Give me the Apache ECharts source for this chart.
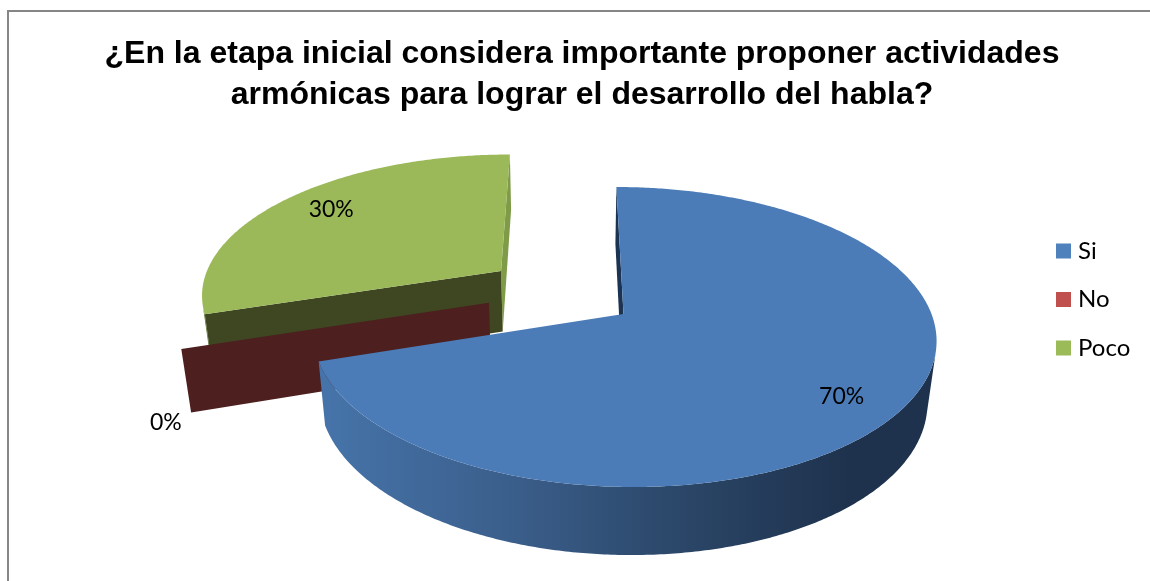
<!DOCTYPE html>
<html><head><meta charset="utf-8">
<style>html,body{margin:0;padding:0;background:#fff}#c{width:1150px;height:581px}</style>
<script src="https://cdn.jsdelivr.net/npm/echarts@6/dist/echarts.min.js"></script>
</head><body><div id="c"></div>
<script>
var titleLines = ['¿En la etapa inicial considera importante proponer actividades','armónicas para lograr el desarrollo del habla?'];
var categories = ['Si','No','Poco'];
var values = [70,0,30];
var colors = ['#4f81bd','#c0504d','#9bbb59'];
// view and layout constants of the tilted pie
var explodeUV = [[0,0],[-0.44,-0.078],[-0.408,-0.307]];
var labelUV = [[0.638,0.52],[-1.352,0.665],[-1.044,-0.80]];
var topColors = ['#4c7cb8','#4d1f1f','#9bb958'];
var cam = {vx:570, vy:-620, h:934, tiltB:3.3, k:0.1533, m:0.025, D:87, a:308, ox:53.5};

var total = values.reduce(function(a,b){return a+b;},0);
function startAngle(i){var s=0;for(var j=0;j<i;j++)s+=values[j];return s/total*2*Math.PI;}
function project(u,v,z){
  var s=1/(1-cam.k*v+cam.m*z);
  return [cam.vx+(cam.a*u+cam.ox)*s, cam.vy+(cam.h+cam.tiltB*v+cam.D*z)*s];
}
function rimPoint(i,ang,z){
  var e=explodeUV[i];
  return project(e[0]+Math.sin(ang),e[1]-Math.cos(ang),z);
}
function apex(i,z){return project(explodeUV[i][0],explodeUV[i][1],z);}
function poly(points,fill){return {type:'polygon',shape:{points:points},style:{fill:fill}};}
function signedArea(p){
  var s=0;
  for(var j=0;j<p.length;j++){var q=p[(j+1)%p.length];s+=p[j][0]*q[1]-q[0]*p[j][1];}
  return s/2;
}
// outer wall: only the stretch of rim that faces the viewer, as one outline
function outerWall(kids,topRim,botRim,fill){
  var first=-1,last=-1;
  for(var w=0;w<topRim.length-1;w++){
    if(signedArea([topRim[w],topRim[w+1],botRim[w+1],botRim[w]])<0){
      if(first<0)first=w;
      last=w+1;
    }
  }
  if(first<0)return;
  kids.push(poly(topRim.slice(first,last+1).concat(botRim.slice(first,last+1).reverse()),fill));
}

function render(i){
  return function(params,api){
    var a0=startAngle(i), a1=a0+api.value(0)/total*2*Math.PI;
    var topRim=[],botRim=[],n=Math.max(1,Math.round((a1-a0)/0.01));
    for(var t=0;t<=n;t++){
      var ang=a0+(a1-a0)*t/n;
      topRim.push(rimPoint(i,ang,0));
      botRim.push(rimPoint(i,ang,1));
    }
    var kids=[];
    if(i===0){
      var grad=new echarts.graphic.LinearGradient(320,0,850,0,[
        {offset:0,color:'#4674aa'},{offset:0.35,color:'#3b5f8c'},{offset:0.7,color:'#2a4566'},{offset:1,color:'#1e324d'}],true);
      outerWall(kids,topRim,botRim,grad);
      kids.push(poly([apex(i,0),topRim[0],botRim[0],apex(i,1)],'#1c3454'));
      kids.push(poly([apex(i,0)].concat(topRim),topColors[i]));
    } else if(i===1){
      kids.push(poly([apex(i,0),topRim[0],botRim[0],apex(i,1)],topColors[i]));
    } else {
      outerWall(kids,topRim,botRim,'#5f7436');
      kids.push(poly([apex(i,0),topRim[n],botRim[n],apex(i,1)],'#7f9b48'));
      kids.push(poly([apex(i,0),topRim[0],botRim[0],apex(i,1)],'#3e4722'));
      kids.push(poly([apex(i,0)].concat(topRim),topColors[i]));
    }
    var lp=project(labelUV[i][0],labelUV[i][1],0);
    kids.push({type:'text',z2:10,x:lp[0],y:lp[1],style:{
      text:Math.round(api.value(0)/total*100)+'%',
      fill:'#000',font:'23px Lato',align:'center',verticalAlign:'middle'}});
    return {type:'group',children:kids};
  };
}
function seriesFor(i,z){
  return {type:'custom',name:categories[i],coordinateSystem:'none',z:z,silent:true,
    data:[[values[i]]],itemStyle:{color:colors[i]},renderItem:render(i),animation:false};
}
var chart=echarts.init(document.getElementById('c'),null,{renderer:'canvas'});
chart.setOption({
  animation:false,
  backgroundColor:'#fff',
  title:{text:titleLines.join('\n'),left:577,top:29,textAlign:'center',
    textStyle:{fontFamily:'Liberation Sans',fontWeight:'bold',fontSize:32,lineHeight:41,color:'#000'}},
  legend:{data:categories,orient:'vertical',left:1051,top:234,itemWidth:15,itemHeight:15,itemGap:24.5,
    icon:'rect',selectedMode:false,itemStyle:{borderWidth:0},
    textStyle:{fontFamily:'Lato',fontSize:24,color:'#000',padding:[0,0,0,2]}},
  graphic:[{type:'polyline',z:100,shape:{points:[[8,581],[8,11],[1150,11]]},style:{stroke:'#868686',lineWidth:2,fill:null}}],
  series:[seriesFor(2,1),seriesFor(1,2),seriesFor(0,3)]
});
</script></body></html>
